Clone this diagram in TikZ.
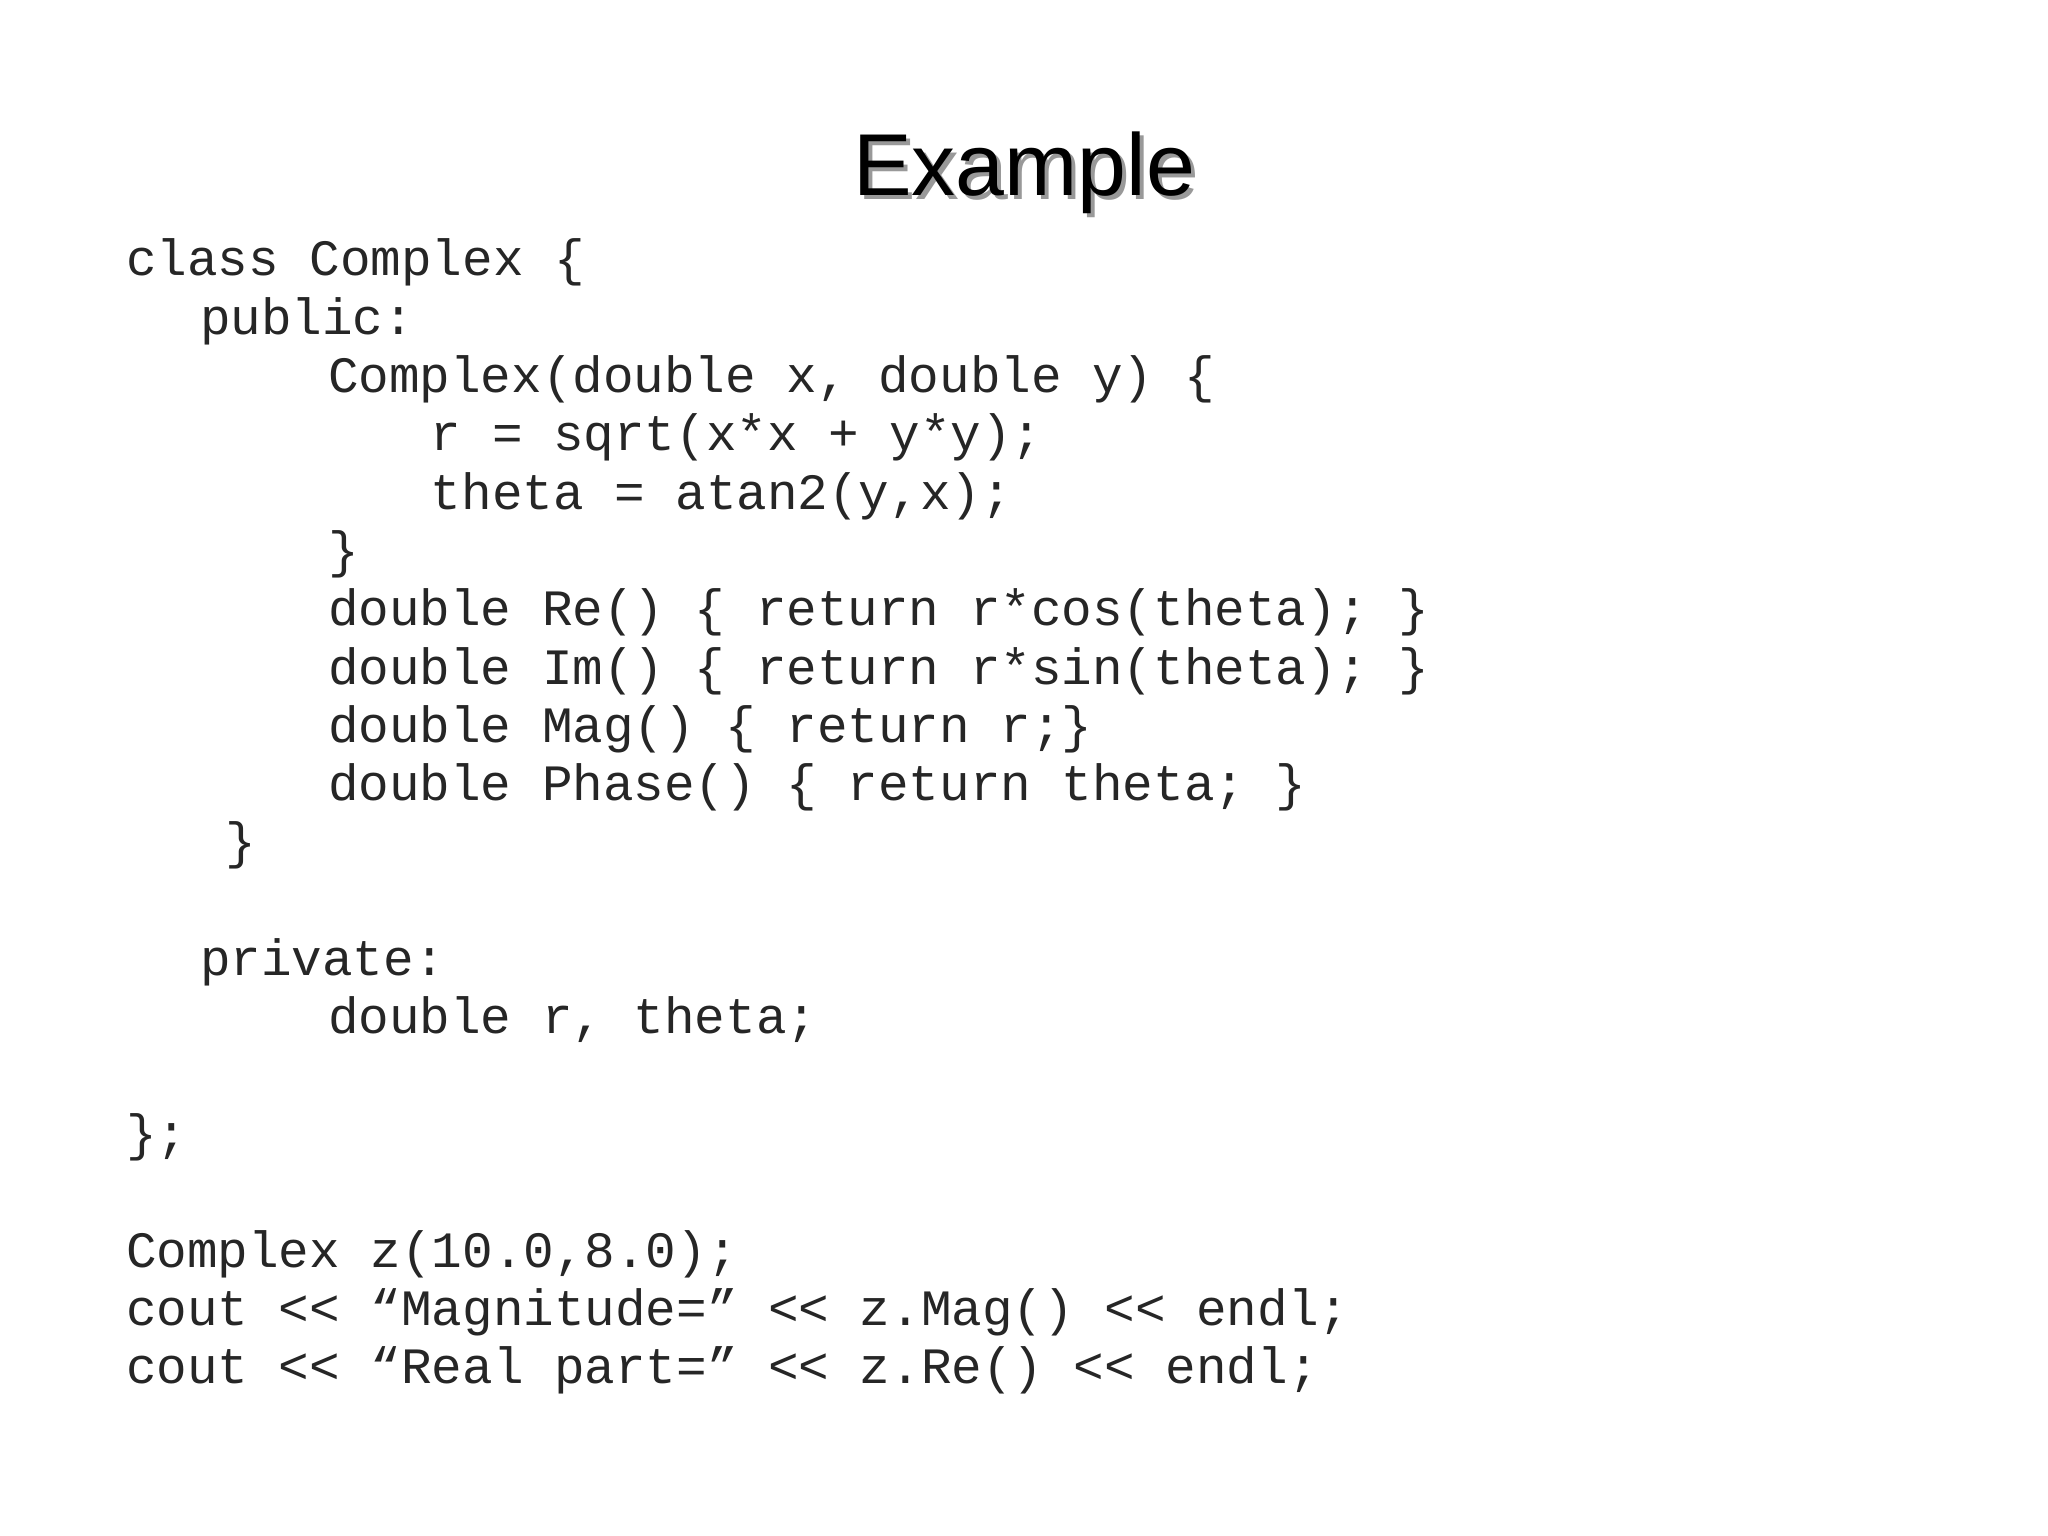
\documentclass[tikz,border=0pt]{standalone}
\usepackage{fontspec}
\setmainfont{Liberation Sans}
\newfontfamily\codefont{Liberation Mono}
\begin{document}
\begin{tikzpicture}[
  code/.style={anchor=base west,inner sep=0pt,font=\codefont\fontsize{14.5pt}{18pt}\selectfont,text=black!85},
  ttl/.style={anchor=base,inner sep=0pt,font=\fontsize{25pt}{30pt}\selectfont}]
\useasboundingbox (0,0) rectangle (20.48,15.36);
\fill[white] (0,0) rectangle (20.48,15.36);
\node[ttl,text=black!40] (tshadow) at (10.28,13.36) {Example};
\node[ttl,text=black] (title) at (10.24,13.40) {Example};
\def\yy#1{12.60-#1*0.583}
\node[code] (l0) at (1.254,{\yy{0}}) {class Complex \{};
\node[code] (l1) at (1.993,{\yy{1}}) {public:};
\node[code] (l2) at (3.273,{\yy{2}}) {Complex(double x, double y) \{};
\node[code] (l3) at (4.302,{\yy{3}}) {r = sqrt(x*x + y*y);};
\node[code] (l4) at (4.302,{\yy{4}}) {theta = atan2(y,x);};
\node[code] (l5) at (3.273,{\yy{5}}) {\}};
\node[code] (l6) at (3.273,{\yy{6}}) {double Re() \{ return r*cos(theta); \}};
\node[code] (l7) at (3.273,{\yy{7}}) {double Im() \{ return r*sin(theta); \}};
\node[code] (l8) at (3.273,{\yy{8}}) {double Mag() \{ return r;\}};
\node[code] (l9) at (3.273,{\yy{9}}) {double Phase() \{ return theta; \}};
\node[code] (l10) at (2.243,{\yy{10}}) {\}};
\node[code] (l12) at (1.993,{\yy{12}}) {private:};
\node[code] (l13) at (3.273,{\yy{13}}) {double r, theta;};
\node[code] (l15) at (1.254,{\yy{15}}) {\};};
\node[code] (l17) at (1.254,{\yy{17}}) {Complex z(10.0,8.0);};
\node[code] (l18) at (1.254,{\yy{18}}) {cout << “Magnitude=” << z.Mag() << endl;};
\node[code] (l19) at (1.254,{\yy{19}}) {cout << “Real part=” << z.Re() << endl;};
\end{tikzpicture}
\end{document}
